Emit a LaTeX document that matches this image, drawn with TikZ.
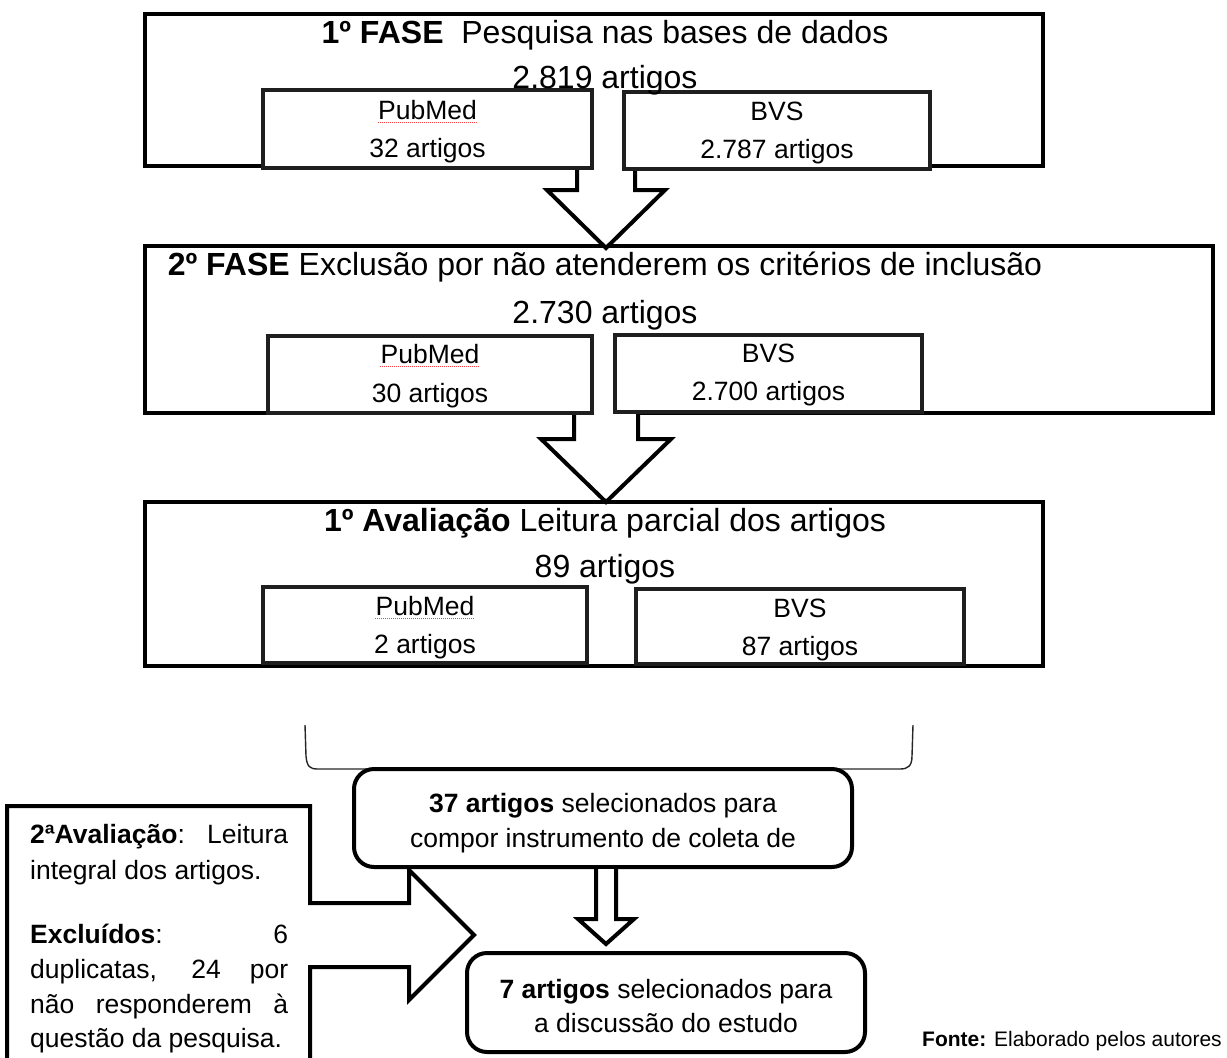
\documentclass[tikz,border=0pt]{standalone}
\usepackage{fontspec}
\setmainfont{Liberation Sans}
\begin{document}
\begin{tikzpicture}[x=1pt,y=-1pt,
  mainbox/.style={draw=black, line width=4pt, fill=white, inner sep=0pt, rectangle},
  subbox/.style={draw=black!88, line width=4pt, fill=white, inner sep=0pt, rectangle},
  roundbox/.style={draw=black, line width=4pt, fill=white, inner sep=0pt, rectangle, rounded corners=20pt},
  blockarrow/.style={draw=black, line width=4pt, fill=white, line join=miter},
  bracketline/.style={draw=black!85, line width=1.4pt},
  maintext/.style={font=\fontsize{32}{38}\selectfont, anchor=base, inner sep=0pt},
  subtext/.style={font=\fontsize{26.5}{32}\selectfont, anchor=base, inner sep=0pt},
  lefttext/.style={font=\fontsize{26.5}{32}\selectfont, anchor=base west, inner sep=0pt},
  spell/.style={draw=red!75, line width=0.9pt, dash pattern=on 1pt off 1pt}
]
\useasboundingbox (0,0) rectangle (1227,1058);

% main phase boxes
\node[mainbox, minimum width=898pt, minimum height=152pt] (fase1) at (594,90) {};
\node[mainbox, minimum width=1068pt, minimum height=167pt] (fase2) at (679,329.5) {};
\node[mainbox, minimum width=898pt, minimum height=164pt] (aval1) at (594,584) {};

% block arrows between phases
\path[blockarrow] (577,164) -- (577,190) -- (547,190) -- (606,248) -- (665,190) -- (635,190) -- (635,164);
\path[blockarrow] (574,411) -- (574,439) -- (541,439) -- (606,502) -- (671,439) -- (638,439) -- (638,411);

% sub boxes
\node[subbox, minimum width=329pt, minimum height=78pt] (pub1) at (427.5,129) {};
\node[subbox, minimum width=306pt, minimum height=77pt] (bvs1) at (777,130.5) {};
\node[subbox, minimum width=324pt, minimum height=77pt] (pub2) at (430,374.5) {};
\node[subbox, minimum width=307pt, minimum height=77pt] (bvs2) at (768.5,373.5) {};
\node[subbox, minimum width=324pt, minimum height=76pt] (pub3) at (425,625) {};
\node[subbox, minimum width=328pt, minimum height=75pt] (bvs3) at (800,626.5) {};

% phase texts
\node[maintext] (t1a) at (605,43) {\textbf{1º FASE}\ \ Pesquisa nas bases de dados};
\node[maintext] (t1b) at (605,88) {2.819 artigos};
\node[maintext] (t2a) at (605,275) {\textbf{2º FASE} Exclusão por não atenderem os critérios de inclusão};
\node[maintext] (t2b) at (605,323) {2.730 artigos};
\node[maintext] (t3a) at (605,531) {\textbf{1º Avaliação} Leitura parcial dos artigos};
\node[maintext] (t3b) at (605,577) {89 artigos};

% sub box texts
\node[subtext] (p1a) at (427.5,119) {PubMed};
\node[subtext] (p1b) at (427.5,157) {32 artigos};
\node[subtext] (b1a) at (777,120) {BVS};
\node[subtext] (b1b) at (777,158) {2.787 artigos};
\node[subtext] (p2a) at (430,363) {PubMed};
\node[subtext] (p2b) at (430,402) {30 artigos};
\node[subtext] (b2a) at (768.5,362) {BVS};
\node[subtext] (b2b) at (768.5,400) {2.700 artigos};
\node[subtext] (p3a) at (425,615) {PubMed};
\node[subtext] (p3b) at (425,653) {2 artigos};
\node[subtext] (b3a) at (800,617) {BVS};
\node[subtext] (b3b) at (800,655) {87 artigos};
\draw[spell] ([yshift=-3pt]p1a.base west) -- ([yshift=-3pt]p1a.base east);
\draw[spell] ([yshift=-3pt]p2a.base west) -- ([yshift=-3pt]p2a.base east);
\draw[spell] ([yshift=-3pt]p3a.base west) -- ([yshift=-3pt]p3a.base east);

% bracket
\draw[bracketline] (305,725) -- (306,756) .. controls (307,767) and (310,769) .. (318,769)
  -- (900,769) .. controls (908,769) and (912,766) .. (912,756) -- (913,725);

% left callout with arrow
\path[blockarrow] (7,1075) -- (7,806) -- (310,806) -- (310,903) -- (409,903) -- (409,870)
  -- (474,935) -- (409,1000) -- (409,967) -- (310,967) -- (310,1075);

% bottom boxes
\node[roundbox, minimum width=498pt, minimum height=98pt] (sel37) at (603,818) {};
\path[blockarrow] (596,869) -- (596,919) -- (578,919) -- (606,944) -- (634,919) -- (616,919) -- (616,869);
\node[roundbox, minimum width=398pt, minimum height=99pt] (sel7) at (666,1002.5) {};

\node[subtext] (s37a) at (603,812) {\textbf{37 artigos} selecionados para};
\node[subtext] (s37b) at (603,847) {compor instrumento de coleta de};
\node[subtext] (s7a) at (666,998) {\textbf{7 artigos} selecionados para};
\node[subtext] (s7b) at (666,1032) {a discussão do estudo};

% left text
\node[lefttext] (l1) at (30,843) {\makebox[258pt][s]{\textbf{2ªAvaliação}: Leitura}};
\node[lefttext] (l2) at (30,879) {integral dos artigos.};
\node[lefttext] (l3) at (30,943) {\makebox[258pt][s]{\textbf{Excluídos}: 6}};
\node[lefttext] (l4) at (30,978) {\makebox[258pt][s]{duplicatas, 24 por}};
\node[lefttext] (l5) at (30,1013) {\makebox[258pt][s]{não responderem à}};
\node[lefttext] (l6) at (30,1047) {questão da pesquisa.};

% source
\node[font=\fontsize{21}{25}\selectfont, anchor=base west, inner sep=0pt] (fonte) at (922,1046) {\textbf{Fonte:} Elaborado pelos autores};
\end{tikzpicture}
\end{document}
